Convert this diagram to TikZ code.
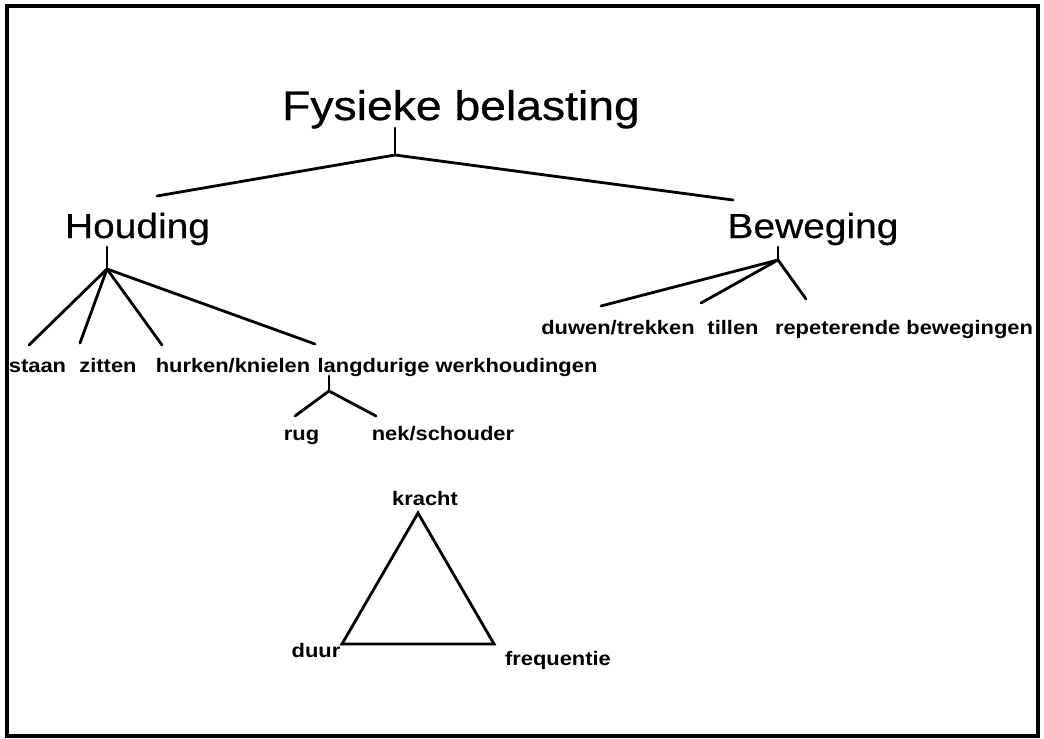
\documentclass[tikz,border=0pt]{standalone}
\usepackage{fontspec}
\newfontfamily\kopfont[FakeStretch=1.12,FakeBold=0.6]{Liberation Sans}
\newfontfamily\bladfont[FakeStretch=1.12]{Liberation Sans}
\usepackage{tikz}

\begin{document}
\begin{tikzpicture}[x=0.025cm,y=-0.025cm]
\tikzset{titel/.style={inner sep=0pt,anchor=base,font=\kopfont\fontsize{29.4}{32}\selectfont},
kop/.style={inner sep=0pt,anchor=base,font=\kopfont\fontsize{24.7}{27}\selectfont},
blad/.style={inner sep=0pt,anchor=base,font=\bladfont\bfseries\fontsize{13.9}{16}\selectfont},
tak/.style={line width=2pt,line cap=round}}

\useasboundingbox (0,0) rectangle (1044,738);
\draw[line width=2.2pt] (7,6) rectangle (1038,736);

% hoofdknopen
\node (fys) at (461,120) [titel] {Fysieke belasting};
\node (houd) at (137.5,238) [kop] {Houding};
\node (bew) at (813,238) [kop] {Beweging};
% houding
\node (staan) at (37.5,372) [blad] {staan};
\node (zit) at (108,372) [blad] {zitten};
\node (hurk) at (233,372) [blad] {hurken/knielen};
\node (lang) at (457.5,372) [blad] {langdurige werkhoudingen};
\node (rug) at (301.5,440) [blad] {rug};
\node (nek) at (443,440) [blad] {nek/schouder};
% beweging
\node (duw) at (618,334) [blad] {duwen/trekken};
\node (til) at (733,334) [blad] {tillen};
\node (rep) at (904,334) [blad] {repeterende bewegingen};
% driehoek
\node (kracht) at (425,505) [blad] {kracht};
\node (duur) at (316,657) [blad] {duur};
\node (freq) at (558,665) [blad] {frequentie};

% splitsingen
\coordinate (s0) at (395,155);
\coordinate (s1) at (107,269);
\coordinate (s2) at (778,260);
\coordinate (s3) at (329,391);

\path[tak]
([shift={(-66,8)}]fys.base) edge (s0)
(s0) edge ([shift={(19.5,-42)}]houd.base)
(s0) edge ([shift={(-80,-38)}]bew.base)
([shift={(-30.5,9)}]houd.base) edge (s1)
(s1) edge ([shift={(-8.5,-27)}]staan.base)
(s1) edge ([shift={(-28,-29)}]zit.base)
(s1) edge ([shift={(-71,-27)}]hurk.base)
(s1) edge ([shift={(-142.5,-28)}]lang.base)
([shift={(-128.5,4)}]lang.base) edge (s3)
(s3) edge ([shift={(-6.5,-24)}]rug.base)
(s3) edge ([shift={(-67,-24)}]nek.base)
([shift={(-35,9)}]bew.base) edge (s2)
(s2) edge ([shift={(-17,-28)}]duw.base)
(s2) edge ([shift={(-32,-31)}]til.base)
(s2) edge ([shift={(-98,-35)}]rep.base);

% driehoek kracht/duur/frequentie
\coordinate (t1) at (418,513);
\coordinate (t2) at (342,644);
\coordinate (t3) at (494,644);
\draw[tak,line join=miter] (t1) -- (t2) -- (t3) -- cycle;

\end{tikzpicture}
\end{document}
